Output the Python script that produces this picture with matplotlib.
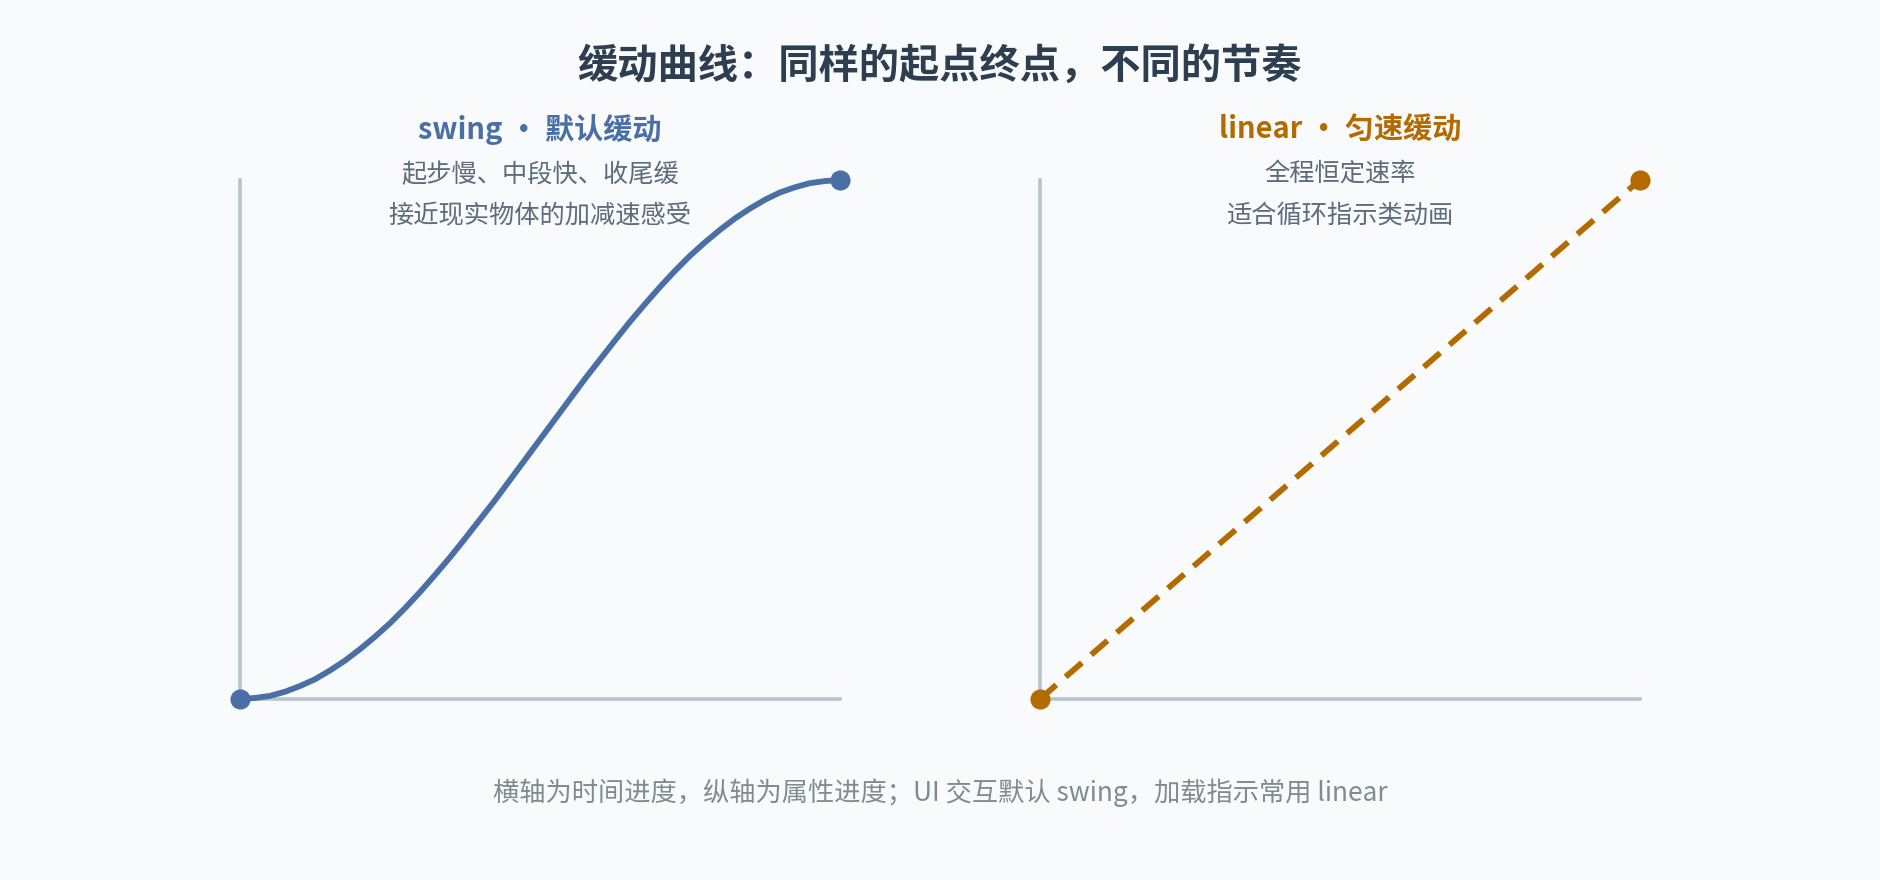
import matplotlib
matplotlib.use("Agg")
import matplotlib.pyplot as plt

plt.rcParams['font.family'] = ['Noto Sans CJK SC', 'DejaVu Sans']

# ---- data ----
time_progress = [0.000, 0.025, 0.050, 0.075, 0.100, 0.125, 0.150, 0.175, 0.200, 0.225,
                 0.250, 0.275, 0.300, 0.325, 0.350, 0.375, 0.400, 0.425, 0.450, 0.475,
                 0.500, 0.525, 0.550, 0.575, 0.600, 0.625, 0.650, 0.675, 0.700, 0.725,
                 0.750, 0.775, 0.800, 0.825, 0.850, 0.875, 0.900, 0.925, 0.950, 0.975, 1.000]
swing_progress = [0.000, 0.002, 0.006, 0.014, 0.025, 0.038, 0.055, 0.074, 0.096, 0.120,
                  0.146, 0.175, 0.206, 0.239, 0.273, 0.309, 0.346, 0.383, 0.422, 0.461,
                  0.500, 0.539, 0.578, 0.617, 0.654, 0.691, 0.727, 0.761, 0.794, 0.825,
                  0.854, 0.880, 0.904, 0.926, 0.945, 0.962, 0.976, 0.986, 0.994, 0.998, 1.000]
linear_time = [0.0, 1.0]
linear_progress = [0.0, 1.0]

title = "缓动曲线：同样的起点终点，不同的节奏"
panel_titles = ["swing • 默认缓动", "linear • 匀速缓动"]
panel_notes = [["起步慢、中段快、收尾缓", "接近现实物体的加减速感受"],
               ["全程恒定速率", "适合循环指示类动画"]]
footer = "横轴为时间进度，纵轴为属性进度；UI 交互默认 swing，加载指示常用 linear"

BG = "#f8fafc"
BLUE = "#4a6fa5"
ORANGE = "#b36b00"
AXIS = "#b8c4cf"

fig = plt.figure(figsize=(18.8, 8.8), dpi=100, facecolor=BG)

W, H = 1880, 880
def axes_px(x0, y_top, w, h):
    return fig.add_axes([x0 / W, 1 - (y_top + h) / H, w / W, h / H])

panels = [axes_px(240, 180, 600, 519), axes_px(1040, 180, 600, 519)]

for ax in panels:
    ax.set_facecolor(BG)
    ax.set_xlim(0, 1)
    ax.set_ylim(0, 1)
    for s in ["top", "right"]:
        ax.spines[s].set_visible(False)
    for s in ["left", "bottom"]:
        ax.spines[s].set_color(AXIS)
        ax.spines[s].set_linewidth(2.6)
    ax.set_xticks([])
    ax.set_yticks([])

ax1, ax2 = panels
ax1.plot(time_progress, swing_progress, color=BLUE, lw=4.2, solid_capstyle="round",
         solid_joinstyle="round", clip_on=False, zorder=3)
ax1.plot([time_progress[0], time_progress[-1]], [swing_progress[0], swing_progress[-1]],
         "o", color=BLUE, ms=13.5, clip_on=False, zorder=4)

ax2.plot(linear_time, linear_progress, color=ORANGE, lw=4.2, dashes=(3.7, 2.1),
         dash_capstyle="butt", clip_on=False, zorder=3)
ax2.plot(linear_time, linear_progress, "o", color=ORANGE, ms=13.5, clip_on=False, zorder=4)

fig.text(0.5, 1 - 66 / H, title, ha="center", va="center", fontsize=29,
         fontweight="bold", color="#2c3e50")

for ax, t, notes, c in zip(panels, panel_titles, panel_notes, [BLUE, ORANGE]):
    pos = ax.get_position()
    cx = (pos.x0 + pos.x1) / 2
    fig.text(cx, 1 - 130 / H, t, ha="center", va="center", fontsize=21,
             fontweight="bold", color=c)
    fig.text(cx, 1 - 175 / H, notes[0], ha="center", va="center", fontsize=18.2,
             color="#5d6b7c")
    fig.text(cx, 1 - 216 / H, notes[1], ha="center", va="center", fontsize=18.2,
             color="#5d6b7c")

fig.text(0.5, 1 - 793 / H, footer, ha="center", va="center", fontsize=18.9,
         color="#7f8c8d")

fig.savefig("out.png", dpi=100, facecolor=BG)
